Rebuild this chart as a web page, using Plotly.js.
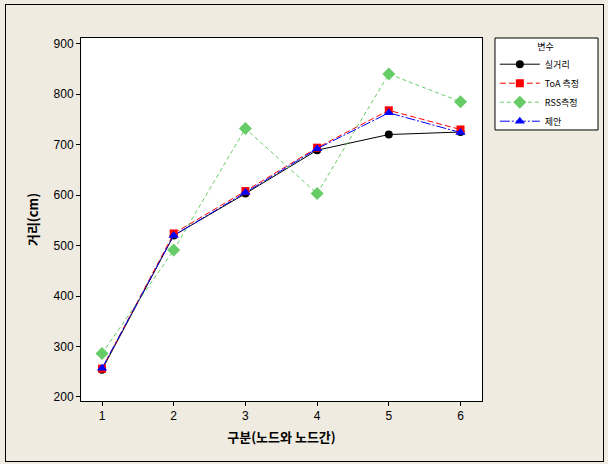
<!DOCTYPE html>
<html><head><meta charset="utf-8">
<script src="https://cdn.plot.ly/plotly-3.0.1.min.js"></script>
<style>
html,body{margin:0;padding:0;background:#EFEBE1;}
#wrap{position:relative;width:608px;height:464px;}
#chart{width:608px;height:464px;}
#frame{position:absolute;left:5px;top:4px;width:597px;height:456px;border:1px solid #000;pointer-events:none;}
</style></head><body>
<div id="wrap"><div id="chart"></div><div id="frame"></div></div>
<script>
const categories = [1, 2, 3, 4, 5, 6];
const realDist = [254, 520, 603, 689, 720, 725];
const toaMeas = [256, 524, 608, 694, 768, 730];
const rssMeas = [286, 491, 732, 603, 840, 785];
const proposed = [257, 520, 605, 692, 763, 724];
const seriesNames = ['실거리', 'ToA 측정', 'RSS측정', '제안'];
const legendTitle = '변수';

const traces = [
  {x: categories, y: realDist, name: seriesNames[0], mode: 'lines+markers',
   line: {color: '#000000', width: 1, dash: 'solid'},
   marker: {symbol: 'circle', size: 8, color: '#000000'}},
  {x: categories, y: toaMeas, name: seriesNames[1], mode: 'lines+markers',
   line: {color: '#FF0000', width: 1, dash: '6px,3px'},
   marker: {symbol: 'square', size: 8, color: '#FF0000'}},
  {x: categories, y: rssMeas, name: seriesNames[2], mode: 'lines+markers',
   line: {color: '#66CC66', width: 1, dash: '4px,3px'},
   marker: {symbol: 'diamond', size: 10, color: '#66CC66'}},
  {x: categories, y: proposed, name: seriesNames[3], mode: 'lines+markers',
   line: {color: '#0000FF', width: 1, dash: '10px,2px,2px,2px'},
   marker: {symbol: 'triangle-up', size: 9, color: '#0000FF'}}
];

const layout = {
  width: 608, height: 464,
  margin: {l: 81, r: 126, t: 38, b: 63},
  paper_bgcolor: '#EFEBE1',
  plot_bgcolor: '#FFFFFF',
  font: {family: 'Liberation Sans, Arial, sans-serif', size: 12, color: '#000'},
  showlegend: true,
  xaxis: {
    range: [0.707, 6.30], tickvals: categories, ticktext: categories.map(String),
    showgrid: false, zeroline: false, showline: true, linecolor: '#000', linewidth: 1, mirror: true,
    ticks: 'outside', ticklen: 4, tickcolor: '#000',
    tickfont: {size: 12},
    title: {text: '<b>구분(노드와 노드간)</b>', font: {family: 'Noto Sans CJK KR', size: 13}, standoff: 10}
  },
  yaxis: {
    range: [192, 911.3], tickvals: [200,300,400,500,600,700,800,900],
    showgrid: false, zeroline: false, showline: true, linecolor: '#000', linewidth: 1, mirror: true,
    ticks: 'outside', ticklen: 4, tickcolor: '#000',
    tickfont: {size: 12},
    title: {text: '<b>거리(cm)</b>', font: {family: 'Noto Sans CJK KR', size: 13}, standoff: 12}
  },
  shapes: [{
    type: 'rect', xref: 'paper', yref: 'paper',
    x0: 1.0324, x1: 1.2893, y0: 0.7466, y1: 1.0,
    fillcolor: '#FFFFFF', line: {color: '#000', width: 1}, layer: 'above'
  }],
  legend: {
    x: 1.032, xanchor: 'left', y: 1.0, yanchor: 'top',
    bgcolor: 'rgba(0,0,0,0)', borderwidth: 0,
    font: {family: 'Noto Sans CJK KR', size: 9},
    title: {text: '\u3000\u3000\u3000\u3000\u2002' + legendTitle, font: {family: 'Noto Sans CJK KR', size: 9, color: '#000'}},
    itemwidth: 40, tracegroupgap: 0
  }
};

Plotly.newPlot('chart', traces, layout, {displayModeBar: false, staticPlot: true});
</script>
</body></html>
